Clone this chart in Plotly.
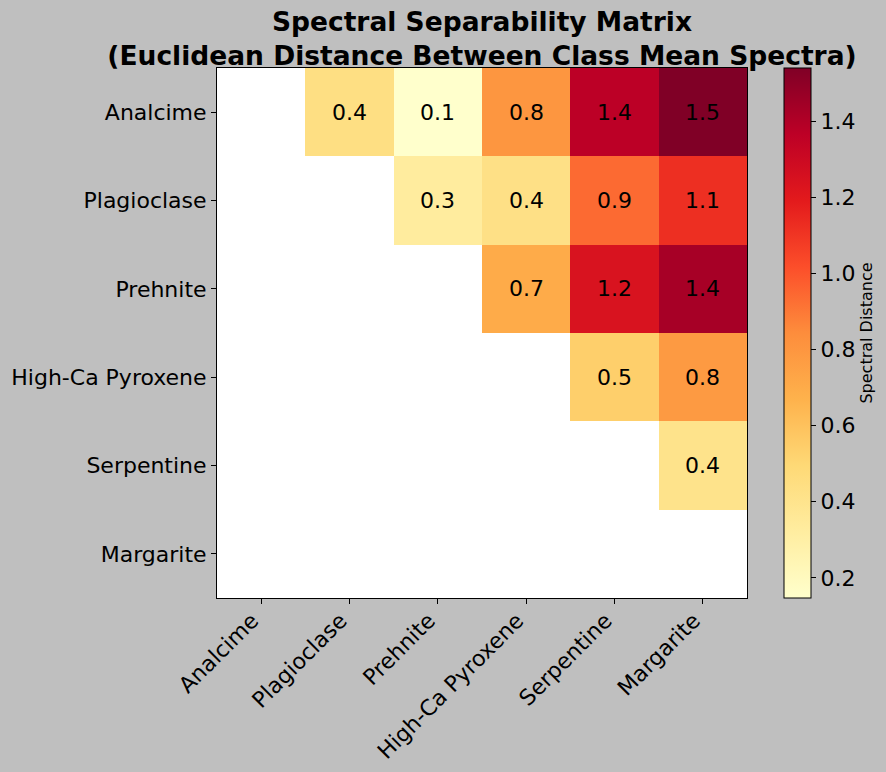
import plotly.graph_objects as go

classes = ["Analcime", "Plagioclase", "Prehnite", "High-Ca Pyroxene", "Serpentine", "Margarite"]

# upper-triangle distances, row by row (None = masked)
row_analcime = [None, 0.44, 0.147, 0.80, 1.37, 1.54]
row_plagioclase = [None, None, 0.33, 0.43, 0.94, 1.12]
row_prehnite = [None, None, None, 0.70, 1.24, 1.43]
row_pyroxene = [None, None, None, None, 0.54, 0.78]
row_serpentine = [None, None, None, None, None, 0.41]
row_margarite = [None, None, None, None, None, None]

z = [row_analcime, row_plagioclase, row_prehnite, row_pyroxene, row_serpentine, row_margarite]

vals = [v for r in z for v in r if v is not None]
zmin, zmax = min(vals), max(vals)

ylorrd = ["#ffffcc", "#ffeda0", "#fed976", "#feb24c", "#fd8d3c",
          "#fc4e2a", "#e31a1c", "#bd0026", "#800026"]
colorscale = [[i / (len(ylorrd) - 1), c] for i, c in enumerate(ylorrd)]

FONT = "DejaVu Sans"
TS = 22

fig = go.Figure(go.Heatmap(
    z=z, x=classes, y=classes,
    colorscale=colorscale, zmin=zmin, zmax=zmax,
    hoverongaps=False,
    colorbar=dict(
        x=1.0698, xanchor="left", xref="paper",
        y=0.5, yanchor="middle", len=1.0, lenmode="fraction",
        xpad=0, ypad=0,
        thickness=27, outlinewidth=1, outlinecolor="black",
        ticks="outside", ticklen=5, tickcolor="black",
        tickvals=[0.2, 0.4, 0.6, 0.8, 1.0, 1.2, 1.4],
        ticktext=["0.2", "0.4", "0.6", "0.8", "1.0", "1.2", "1.4"],
        tickfont=dict(family=FONT, size=TS, color="black"),
        title=dict(text="Spectral Distance", side="right",
                   font=dict(family=FONT, size=16, color="black")),
    ),
))

annotations = []
for i, row in enumerate(z):
    for j, v in enumerate(row):
        if v is not None:
            annotations.append(dict(
                x=classes[j], y=classes[i], text=f"{v:.1f}", showarrow=False,
                font=dict(family=FONT, size=TS, color="black"),
            ))

fig.update_layout(
    width=886, height=772,
    margin=dict(l=217, r=139, t=68, b=174, autoexpand=False),
    paper_bgcolor="#bfbfbf", plot_bgcolor="white",
    font=dict(family=FONT, color="black"),
    title=dict(
        text="<b>Spectral Separability Matrix<br>(Euclidean Distance Between Class Mean Spectra)</b>",
        x=482 / 886, xanchor="center", xref="container",
        y=1 - 31 / 772, yanchor="middle", yref="container",
        font=dict(family=FONT, size=26.5, color="black"),
    ),
    annotations=annotations,
    showlegend=False,
)
fig.update_xaxes(
    type="category", showline=True, linecolor="black", linewidth=1, mirror=True,
    ticks="outside", ticklen=5, tickcolor="black", tickangle=-45,
    ticklabelshift=-9, ticklabelstandoff=-5,
    tickfont=dict(family=FONT, size=TS, color="black"), showgrid=False, zeroline=False,
)
fig.update_yaxes(
    type="category", autorange="reversed", showline=True, linecolor="black", linewidth=1,
    mirror=True, ticks="outside", ticklen=5, tickcolor="black",
    tickfont=dict(family=FONT, size=TS, color="black"), showgrid=False, zeroline=False,
)

fig.write_html("out.html")
